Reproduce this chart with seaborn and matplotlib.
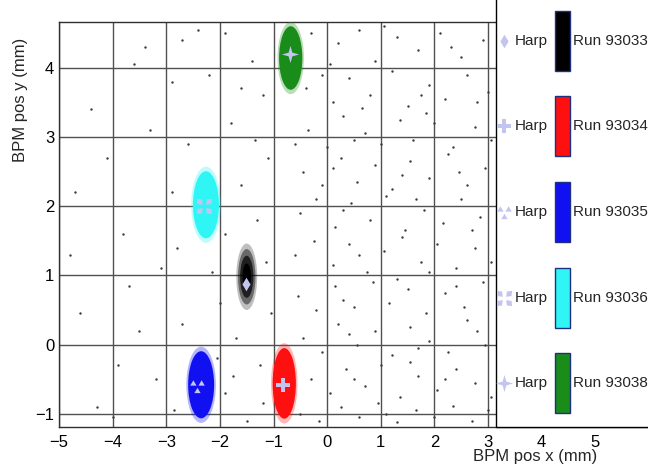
import numpy as np
import pandas as pd
import matplotlib
matplotlib.use("Agg")
import matplotlib.pyplot as plt
import seaborn as sns
from matplotlib.patches import Ellipse, Rectangle
from matplotlib.path import Path
from matplotlib.lines import Line2D
from matplotlib.ticker import MultipleLocator

# ---------------- data ----------------
runs = ["Run 93033", "Run 93034", "Run 93035", "Run 93036", "Run 93038"]
run_colors = ["#000000", "#ff1010", "#1010f0", "#30f5f5", "#1a8c1a"]
beam_x = [-1.50, -0.80, -2.35, -2.26, -0.68]
beam_y = [0.98, -0.56, -0.58, 2.02, 4.14]
sigma_x = [0.065, 0.085, 0.095, 0.095, 0.085]
sigma_y = [0.16, 0.20, 0.19, 0.19, 0.18]
harp_x = [-1.51, -0.82, -2.43, -2.29, -0.69]
harp_y = [0.88, -0.59, -0.60, 2.00, 4.20]
harp_label = "Harp"

bg_x = [-4.6, -4.8, -4.3, -3.8, -3.4, -3.6, -4.1, -3.2, -3.5, -4.4, -3.1, -3.9, -4.7, -3.3, -4.0, -3.7,
        -2.9, -2.7, -2.2, -1.9, -1.4, -1.2, -1.8, -2.6, -1.1, -1.6, -1.3, -2.8, -1.9, -1.15, -2.0,
        -2.7, -1.7, -1.25, -1.9, -2.85, -1.5, -2.05, -1.05, -1.6, -2.4, -1.35, -2.9, -1.75, -1.2, -2.15,
        -0.3, 0.2, 0.6, 0.9, 1.3, 1.7, 2.1, 2.5, 2.9, 0.05, 1.05, 2.3,
        -0.4, 0.1, 0.4, 0.8, 1.2, 1.5, 1.9, 2.2, 2.6, 3.0, -0.1, 0.65, 1.75, 2.8,
        -0.35, 0.0, 0.3, 0.7, 1.0, 1.35, 1.6, 2.0, 2.35, 2.75, 3.05, 0.5, 1.85, -0.6,
        -0.45, -0.1, 0.25, 0.55, 0.9, 1.2, 1.55, 1.9, 2.25, 2.6, 2.95, 0.1, 1.4, 2.45,
        -0.5, -0.2, 0.15, 0.45, 0.8, 1.1, 1.45, 1.8, 2.15, 2.5, 2.85, 0.3, 1.65, 2.7,
        -0.6, -0.25, 0.1, 0.4, 0.75, 1.05, 1.4, 1.75, 2.05, 2.4, 2.75, 3.05, 0.6, 1.9,
        -0.55, -0.2, 0.15, 0.5, 0.85, 1.15, 1.5, 1.85, 2.2, 2.55, 2.9, 0.3, 1.3, 2.4,
        -0.45, -0.1, 0.2, 0.55, 0.9, 1.2, 1.55, 1.9, 2.25, 2.6, 2.95, 0.4, 1.7, 2.8,
        -0.3, 0.05, 0.35, 0.7, 1.0, 1.35, 1.7, 2.05, 2.4, 2.75, 3.05, 0.5, 1.55, 2.2,
        -0.5, -0.15, 0.25, 0.6, 0.95, 1.3, 1.65, 2.0, 2.35, 2.7, 3.0, 1.1]
bg_y = [0.45, 1.3, -0.9, 1.6, 4.3, 4.05, 2.7, -0.5, 0.2, 3.4, 1.1, -0.3, 2.2, 3.1, -1.05, 0.85,
        3.8, 4.4, 3.9, 4.5, 4.1, 3.6, 3.2, 2.9, 2.7, 2.3, 1.8, 1.4, 1.6, 1.2, 0.6,
        0.3, 0.1, -0.3, -0.7, -0.95, -1.1, -0.2, 0.45, 3.7, 4.55, 2.95, 2.2, -0.45, -0.85, 1.05,
        4.5, 4.35, 4.55, 4.1, 4.45, 4.25, 4.5, 4.15, 4.4, 4.05, 4.6, 4.3,
        3.7, 3.5, 3.85, 3.6, 3.95, 3.45, 3.75, 3.55, 3.9, 3.65, 3.9, 3.42, 3.6, 3.5,
        3.1, 2.85, 3.3, 3.05, 2.9, 3.25, 2.95, 3.2, 2.85, 3.15, 2.95, 2.95, 3.35, 2.9,
        2.5, 2.3, 2.7, 2.35, 2.6, 2.25, 2.65, 2.4, 2.75, 2.3, 2.55, 2.55, 2.45, 2.5,
        1.9, 2.1, 1.7, 2.05, 1.8, 2.15, 1.65, 1.95, 1.75, 2.1, 1.85, 1.95, 2.1, 1.65,
        1.3, 1.5, 1.15, 1.45, 1.05, 1.35, 1.55, 1.2, 1.45, 1.1, 1.4, 1.2, 1.3, 1.05,
        0.7, 0.5, 0.85, 0.55, 0.9, 0.6, 0.8, 0.45, 0.75, 0.55, 0.9, 0.65, 0.95, 0.85,
        0.1, -0.1, 0.3, 0.0, 0.2, -0.15, 0.25, 0.05, -0.1, 0.35, 0.0, 0.15, -0.05, 0.2,
        -0.5, -0.7, -0.35, -0.6, -0.3, -0.75, -0.45, -0.65, -0.35, -0.55, -0.75, -0.5, -0.25, -0.5,
        -1.0, -1.1, -0.9, -1.05, -0.85, -1.12, -0.95, -1.05, -0.88, -1.1, -0.95, -1.0]

# ---------------- style ----------------
sns.set_style("white")
plt.rcParams['font.family'] = ['Liberation Sans', 'DejaVu Sans']

fig = plt.figure(figsize=(6.48, 4.67), dpi=100)
W, H = 648.0, 467.0
ax = fig.add_axes([59 / W, 40 / H, 590 / W, 405 / H])
ax.set_xlim(-5, 6.0)
ax.set_ylim(-1.19, 4.66)

# markers
diamond = Path([(0, 1), (0.6, 0), (0, -1), (-0.6, 0), (0, 1)],
               [Path.MOVETO, Path.LINETO, Path.LINETO, Path.LINETO, Path.CLOSEPOLY])
def tri(cx, cy, s):
    return [(cx - s, cy - 0.8 * s), (cx + s, cy - 0.8 * s), (cx, cy + 0.9 * s), (cx - s, cy - 0.8 * s)]
tv = tri(-0.55, 0.45, 0.42) + tri(0.55, 0.45, 0.42) + tri(0.0, -0.55, 0.42)
tc = ([Path.MOVETO, Path.LINETO, Path.LINETO, Path.CLOSEPOLY]) * 3
trefoil = Path(tv, tc)
def petal(dx, dy):
    # kite-shaped blade along a diagonal, leaving the centre hollow
    px, py = -dy, dx
    r0, r1, rm, w = 0.22, 1.0, 0.62, 0.30
    return [(dx * r0, dy * r0), (dx * rm + px * w, dy * rm + py * w), (dx * r1, dy * r1),
            (dx * rm - px * w, dy * rm - py * w), (dx * r0, dy * r0)]
s2 = 1 / np.sqrt(2)
pv = petal(s2, s2) + petal(-s2, s2) + petal(s2, -s2) + petal(-s2, -s2)
pc = ([Path.MOVETO, Path.LINETO, Path.LINETO, Path.LINETO, Path.CLOSEPOLY]) * 4
xpetals = Path(pv, pc)
star4 = Path([(0, 1), (0.22, 0.22), (1, 0), (0.22, -0.22), (0, -1), (-0.22, -0.22), (-1, 0), (-0.22, 0.22), (0, 1)],
             [Path.MOVETO] + [Path.LINETO] * 7 + [Path.CLOSEPOLY])
harp_markers = [diamond, "P", trefoil, xpetals, star4]
harp_sizes = [95, 110, 110, 120, 150]
harp_color = "#c4c4f0"

# grid
ax.set_axisbelow(True)
ax.grid(True, which="major", color="#505050", lw=1.0)

# background hits
bg = pd.DataFrame({"x": bg_x, "y": bg_y})
sns.scatterplot(data=bg, x="x", y="y", ax=ax, color="#3a3a3a", s=3, linewidth=0, legend=False, zorder=2)

# beam spots
for bx, by, sx, sy, col in zip(beam_x, beam_y, sigma_x, sigma_y, run_colors):
    if col == "#000000":
        layers = [(3.0, 0.25), (2.5, 0.45), (1.9, 0.7), (1.2, 1.0)]
    else:
        layers = [(2.9, 0.3), (2.55, 1.0)]
    for k, a in layers:
        ax.add_patch(Ellipse((bx, by), 2 * k * sx, 2 * k * sy, facecolor=col, edgecolor="none",
                             alpha=a, zorder=3))

# harp positions
for hx, hy, m, s in zip(harp_x, harp_y, harp_markers, harp_sizes):
    sns.scatterplot(x=[hx], y=[hy], ax=ax, marker=m, s=s, color=harp_color, linewidth=0,
                    legend=False, zorder=4)

# ticks
ax.set_xticks(range(-5, 6))
ax.set_yticks(range(-1, 5))
ax.xaxis.set_minor_locator(MultipleLocator(0.2))
ax.yaxis.set_minor_locator(MultipleLocator(0.2))
ax.tick_params(which="both", direction="in", labelsize=12, colors="black", top=False, right=False)
ax.tick_params(which="major", length=10, width=1)
ax.tick_params(which="minor", length=5, width=1, color="#404040")
ax.tick_params(axis="x", pad=6)
for sp in ax.spines.values():
    sp.set_color("#303030")
    sp.set_linewidth(1.0)
ax.spines["right"].set_visible(False)

ax.set_xlabel("BPM pos x (mm)", fontsize=12, loc="right")
ax.xaxis.label.set_va("center")
ax.xaxis.set_label_coords(0.912, -0.073)
ax.set_ylabel("BPM pos y (mm)", fontsize=12, loc="top")
ax.yaxis.label.set_va("center")
ax.yaxis.set_label_coords(-0.066, 0.96)

# legend box (drawn over the plot, as in the original canvas)
box = Rectangle((496 / W, 40 / H), 0.3, 1.0, transform=fig.transFigure, facecolor="white",
                edgecolor="black", lw=1.0, zorder=5)
fig.add_artist(box)
row_y = [41, 126, 212, 298, 383]
for ry, m, s, col, run in zip(row_y, harp_markers, harp_sizes, run_colors, runs):
    yf = 1 - ry / H
    fig.add_artist(Line2D([504 / W], [yf], transform=fig.transFigure, marker=m, linestyle="none",
                          markersize=np.sqrt(s) * 1.0, color=harp_color, markeredgewidth=0, zorder=6))
    fig.text(515 / W, yf, harp_label, fontsize=11, ha="left", va="center", zorder=6)
    fig.add_artist(Rectangle((555 / W, yf - 30 / H), 15 / W, 60 / H, transform=fig.transFigure,
                             facecolor=col, edgecolor="#203080", lw=1.0, zorder=6))
    fig.text(573 / W, yf, run, fontsize=11, ha="left", va="center", zorder=6)

fig.savefig("out.png", dpi=100)
